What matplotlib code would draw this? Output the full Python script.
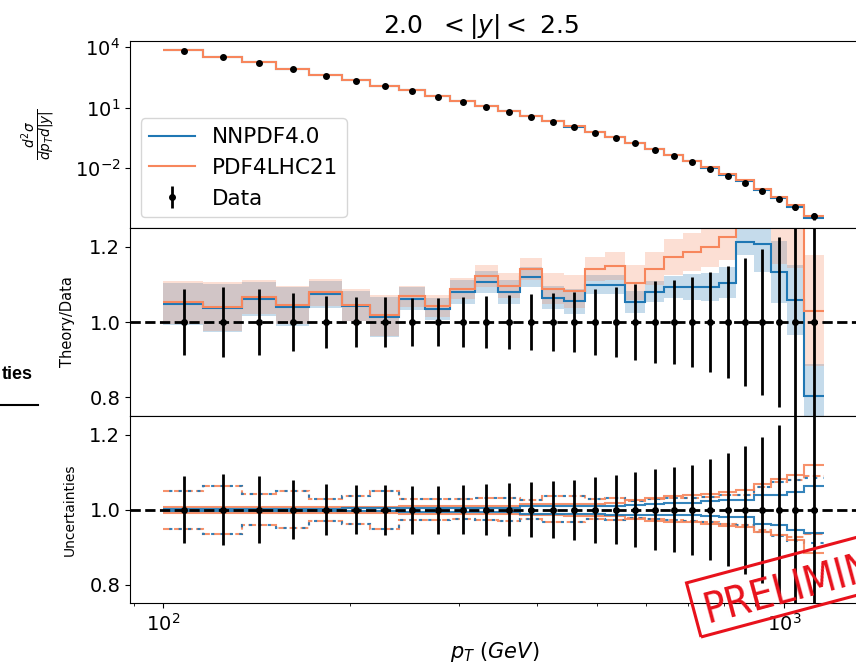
import numpy as np
import matplotlib
matplotlib.use("Agg")
import matplotlib.pyplot as plt
from matplotlib import font_manager
from matplotlib.font_manager import FontProperties
from matplotlib.patches import Rectangle
from matplotlib.lines import Line2D
from matplotlib.transforms import Affine2D

# pT bin edges in GeV, 2.0 < |y| < 2.5
pt_edges = [100, 116, 134, 152, 172, 194, 216, 240, 264, 290, 318, 346, 376, 408,
            442, 478, 516, 556, 598, 642, 688, 736, 786, 838, 894, 952, 1012, 1076, 1162]

# measured d2sigma/dpT d|y| (log10) and relative data uncertainty
data_log10 = [3.80, 3.49, 3.21, 2.88, 2.57, 2.32, 2.06, 1.83, 1.53, 1.29, 1.03, 0.78, 0.52, 0.29,
              0.04, -0.26, -0.50, -0.77, -1.08, -1.39, -1.70, -2.02, -2.36, -2.72, -3.13, -3.51,
              -3.92, -4.35]
data_rel_err = [0.089, 0.094, 0.089, 0.078, 0.068, 0.066, 0.067, 0.064, 0.064, 0.066, 0.069, 0.071,
                0.074, 0.077, 0.080, 0.088, 0.093, 0.100, 0.108, 0.113, 0.120, 0.134, 0.150, 0.171,
                0.195, 0.225, 0.300, 0.350]

# theory / data
nnpdf_ratio = [1.049, 1.038, 1.061, 1.041, 1.074, 1.042, 1.013, 1.062, 1.035, 1.079, 1.106, 1.080,
               1.120, 1.065, 1.055, 1.099, 1.099, 1.053, 1.080, 1.093, 1.093, 1.093, 1.105, 1.213,
               1.208, 1.133, 1.058, 0.802]
nnpdf_band = [0.056, 0.064, 0.046, 0.051, 0.036, 0.040, 0.054, 0.030, 0.030, 0.032, 0.030, 0.033,
              0.026, 0.030, 0.034, 0.025, 0.025, 0.030, 0.028, 0.030, 0.035, 0.038, 0.040, 0.036,
              0.075, 0.082, 0.093, 0.085]
pdf4lhc_ratio = [1.052, 1.041, 1.066, 1.045, 1.079, 1.045, 1.018, 1.069, 1.042, 1.089, 1.122, 1.096,
                 1.142, 1.089, 1.082, 1.142, 1.149, 1.105, 1.142, 1.173, 1.186, 1.199, 1.226, 1.340,
                 1.360, 1.310, 1.300, 1.030]
pdf4lhc_band = [0.056, 0.065, 0.046, 0.051, 0.036, 0.042, 0.054, 0.028, 0.029, 0.029, 0.029, 0.033,
                0.029, 0.041, 0.044, 0.032, 0.037, 0.046, 0.044, 0.048, 0.050, 0.052, 0.060, 0.080,
                0.100, 0.155, 0.157, 0.148]

# relative uncertainties: pdf (solid) and total (dashed)
nnpdf_pdf_up = [0.003, 0.003, 0.003, 0.003, 0.003, 0.004, 0.004, 0.005, 0.005, 0.005, 0.005, 0.005,
                0.009, 0.009, 0.009, 0.009, 0.011, 0.013, 0.016, 0.018, 0.019, 0.022, 0.025, 0.027,
                0.038, 0.038, 0.046, 0.062]
nnpdf_pdf_dn = [0.003, 0.003, 0.003, 0.003, 0.003, 0.004, 0.004, 0.006, 0.006, 0.006, 0.006, 0.006,
                0.011, 0.011, 0.011, 0.011, 0.013, 0.015, 0.015, 0.015, 0.015, 0.016, 0.019, 0.020,
                0.037, 0.041, 0.054, 0.062]
pdf4lhc_pdf_up = [0.007, 0.007, 0.007, 0.007, 0.008, 0.008, 0.008, 0.010, 0.010, 0.011, 0.011, 0.011,
                  0.015, 0.015, 0.016, 0.016, 0.018, 0.025, 0.032, 0.036, 0.038, 0.042, 0.048, 0.052,
                  0.069, 0.082, 0.093, 0.118]
pdf4lhc_pdf_dn = [0.008, 0.008, 0.008, 0.008, 0.008, 0.009, 0.009, 0.011, 0.012, 0.012, 0.012, 0.012,
                  0.015, 0.015, 0.016, 0.016, 0.018, 0.024, 0.029, 0.032, 0.034, 0.037, 0.044, 0.047,
                  0.059, 0.068, 0.081, 0.117]
nnpdf_tot_up = [0.051, 0.062, 0.041, 0.049, 0.029, 0.037, 0.051, 0.029, 0.029, 0.028, 0.030, 0.032,
                0.027, 0.036, 0.036, 0.028, 0.031, 0.024, 0.029, 0.030, 0.031, 0.034, 0.038, 0.040,
                0.061, 0.074, 0.080, 0.085]
nnpdf_tot_dn = [0.052, 0.064, 0.041, 0.050, 0.029, 0.038, 0.051, 0.028, 0.027, 0.026, 0.027, 0.030,
                0.025, 0.034, 0.034, 0.026, 0.028, 0.022, 0.025, 0.027, 0.030, 0.034, 0.037, 0.040,
                0.059, 0.071, 0.085, 0.088]
pdf4lhc_tot_up = [0.051, 0.062, 0.041, 0.049, 0.029, 0.037, 0.051, 0.029, 0.029, 0.028, 0.030, 0.032,
                  0.027, 0.036, 0.036, 0.028, 0.031, 0.024, 0.029, 0.030, 0.031, 0.034, 0.038, 0.040,
                  0.061, 0.074, 0.080, 0.090]
pdf4lhc_tot_dn = [0.052, 0.064, 0.041, 0.050, 0.029, 0.038, 0.051, 0.028, 0.027, 0.026, 0.027, 0.030,
                  0.025, 0.034, 0.034, 0.026, 0.028, 0.022, 0.025, 0.027, 0.030, 0.034, 0.037, 0.040,
                  0.055, 0.068, 0.072, 0.066]

C_NN = "#1f77b4"
C_PDF4 = "#f7865c"


def pick_font(names):
    for n in names:
        try:
            font_manager.findfont(n, fallback_to_default=False)
            return n
        except ValueError:
            pass
    return "DejaVu Sans"


edges = np.array(pt_edges, dtype=float)
centers = 0.5 * (edges[1:] + edges[:-1])
xsec = 10 ** np.array(data_log10)
rel = np.array(data_rel_err)
ones = np.ones_like(centers)

nn_r, nn_b = np.array(nnpdf_ratio), np.array(nnpdf_band)
p4_r, p4_b = np.array(pdf4lhc_ratio), np.array(pdf4lhc_band)

FW, FH = 856, 669
fig = plt.figure(figsize=(FW / 100, FH / 100), dpi=100)
pix = Affine2D().scale(1.0 / fig.dpi) + fig.dpi_scale_trans

# axes span in pixels; the right spine sits just past the figure edge
L, W = 130, 729.0


def box(top, bottom):
    return [L / FW, 1 - bottom / FH, W / FW, (bottom - top) / FH]


ax0 = fig.add_axes(box(41, 228))
ax1 = fig.add_axes(box(228, 416), sharex=ax0)
ax2 = fig.add_axes(box(416, 603.3), sharex=ax0)

# --- cross section
ax0.stairs(xsec * nn_r, edges, baseline=None, color=C_NN, lw=1.5, label="NNPDF4.0")
ax0.stairs(xsec * p4_r, edges, baseline=None, color=C_PDF4, lw=1.5, label="PDF4LHC21")
ax0.errorbar(centers, xsec, yerr=xsec * rel, fmt="o", ms=4, color="black",
             elinewidth=2, label="Data")
ax0.set_yscale("log")
ax0.set_ylim(1.14e-5, 1.91e4)
ax0.set_yticks([1e-2, 1e1, 1e4])
ax0.yaxis.set_minor_locator(matplotlib.ticker.NullLocator())
ax0.set_ylabel(r"$\frac{d^2\sigma}{dp_T d|y|}$", fontsize=14)
ax0.yaxis.set_label_coords(-0.099, 0.5)
ax0.legend(loc="lower left", fontsize=15.5, handlelength=2.1)
ax0.set_title("2.0  $<|y|<$ 2.5", fontsize=18, x=0.4815)

# --- theory / data
ax1.stairs(nn_r + nn_b, edges, baseline=nn_r - nn_b, fill=True, color=C_NN, alpha=0.26, lw=0)
ax1.stairs(p4_r + p4_b, edges, baseline=p4_r - p4_b, fill=True, color=C_PDF4, alpha=0.26, lw=0)
ax1.stairs(nn_r, edges, baseline=None, color=C_NN, lw=1.5)
ax1.stairs(p4_r, edges, baseline=None, color=C_PDF4, lw=1.5)
ax1.axhline(1.0, color="black", ls="--", lw=2)
ax1.errorbar(centers, ones, yerr=rel, fmt="o", ms=4, color="black", elinewidth=2)
ax1.set_ylim(0.75, 1.25)
ax1.set_yticks([0.8, 1.0, 1.2])
ax1.set_ylabel("Theory/Data", fontsize=10.5)
ax1.yaxis.set_label_coords(-0.0756, 0.5)

# --- uncertainties
for up, dn, col, ls in [
    (pdf4lhc_tot_up, pdf4lhc_tot_dn, C_PDF4, "--"),
    (nnpdf_tot_up, nnpdf_tot_dn, C_NN, (1.5, (1.5, 3.0))),
    (pdf4lhc_pdf_up, pdf4lhc_pdf_dn, C_PDF4, "-"),
    (nnpdf_pdf_up, nnpdf_pdf_dn, C_NN, "-"),
]:
    ax2.stairs(1 + np.array(up), edges, baseline=None, color=col, ls=ls, lw=1.5, alpha=0.9)
    ax2.stairs(1 - np.array(dn), edges, baseline=None, color=col, ls=ls, lw=1.5, alpha=0.9)
ax2.axhline(1.0, color="black", ls="--", lw=2)
ax2.errorbar(centers, ones, yerr=rel, fmt="o", ms=4, color="black", elinewidth=2)
ax2.set_ylim(0.75, 1.25)
ax2.set_yticks([0.8, 1.0, 1.2])
ax2.set_ylabel("Uncertainties", fontsize=10)
ax2.yaxis.set_label_coords(-0.073, 0.5)

# 10^2 at x=162.8 px, 621 px per decade
ax2.set_xscale("log")
ax2.set_xlim(10 ** (2 - (162.8 - L) / 621), 10 ** (2 + (L + W - 162.8) / 621))
ax2.set_xlabel(r"$p_T\ (GeV)$", fontsize=15)

for ax in (ax0, ax1, ax2):
    ax.tick_params(labelsize=14)
for ax in (ax0, ax1):
    ax.tick_params(labelbottom=False)

# heading fragment at the left border
fig.text(33, FH - 379, "ties", transform=pix, ha="right", va="baseline",
         fontsize=13, fontweight="bold", family=pick_font(["Liberation Sans", "Arial"]))
fig.add_artist(Line2D([0, 38], [FH - 405, FH - 405], transform=pix, color="black", lw=1.5))

# preliminary stamp
red = "#e8121c"
fig.add_artist(Rectangle((701, FH - 637), 320, 56, angle=15, transform=pix,
                         fill=False, edgecolor=red, lw=2.2, zorder=20))
stamp_kw = dict(family="DejaVu Sans", fontsize=26)
narrow = pick_font(["Liberation Sans Narrow", "Arial Narrow"])
if narrow != "DejaVu Sans":
    stamp_kw = dict(family=narrow, fontsize=31)
else:
    cond = FontProperties(family="DejaVu Sans", stretch="condensed")
    if "Condensed" in font_manager.findfont(cond):
        stamp_kw = dict(family="DejaVu Sans", fontstretch="condensed", fontsize=30)
fig.text(707.5, FH - 622.8, "PRELIMINARY", transform=pix, rotation=15,
         rotation_mode="anchor", ha="left", va="baseline", color=red, zorder=21, **stamp_kw)

fig.savefig("out.png", dpi=100)
